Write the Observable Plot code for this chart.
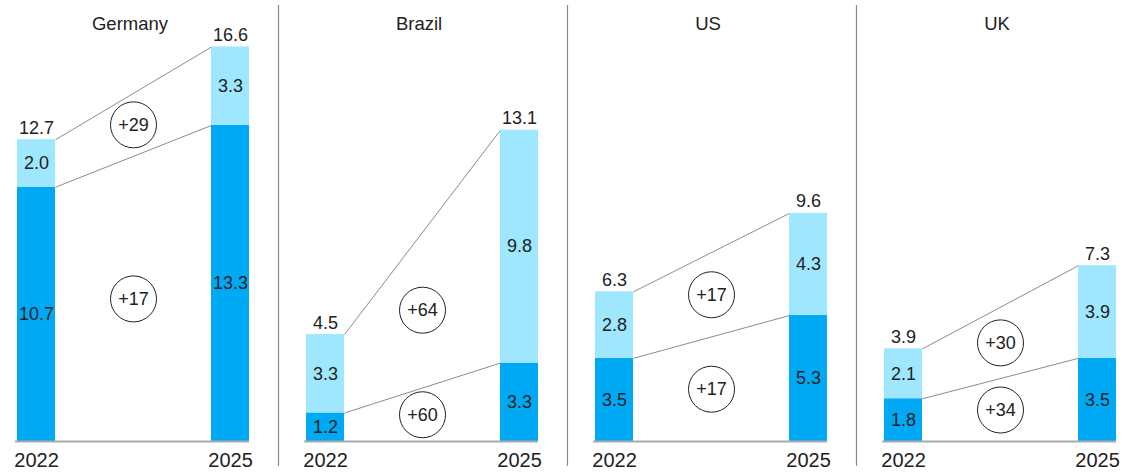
<!DOCTYPE html>
<html><head><meta charset="utf-8">
<script src="https://cdn.jsdelivr.net/npm/d3@7"></script>
<script src="https://cdn.jsdelivr.net/npm/@observablehq/plot@0.6"></script>
<style>body{margin:0;background:#fff;}</style>
</head><body><div id="chart"></div>
<script>
const countries = ["Germany", "Brazil", "US", "UK"];
const years = [2022, 2025];
const dark2022 = [10.7, 1.2, 3.5, 1.8];
const light2022 = [2.0, 3.3, 2.8, 2.1];
const dark2025 = [13.3, 3.3, 5.3, 3.5];
const light2025 = [3.3, 9.8, 4.3, 3.9];
const total2022 = [12.7, 4.5, 6.3, 3.9];
const total2025 = [16.6, 13.1, 9.6, 7.3];
const growthTotal = ["+29", "+64", "+17", "+30"];
const growthDark = ["+17", "+60", "+17", "+34"];

const DARK = "#00a9f4", LIGHT = "#9ee7ff", INK = "#222";
const hw = 0.294; // half bar width in year units
const [y0, y1] = years;

const segs = [], totals = [], links = [], circles = [], bases = [];
countries.forEach((c, i) => {
  const d = [dark2022[i], dark2025[i]], l = [light2022[i], light2025[i]], t = [total2022[i], total2025[i]];
  years.forEach((yr, k) => {
    segs.push({country: c, year: yr, lo: 0, hi: d[k], v: d[k], fill: DARK});
    segs.push({country: c, year: yr, lo: d[k], hi: d[k] + l[k], v: l[k], fill: LIGHT});
    totals.push({country: c, year: yr, top: d[k] + l[k], v: t[k]});
  });
  const topA = dark2022[i] + light2022[i], topB = dark2025[i] + light2025[i];
  links.push({country: c, a: topA, b: topB});
  links.push({country: c, a: dark2022[i], b: dark2025[i]});
  const midTop = (topA + topB) / 2, midDark = (dark2022[i] + dark2025[i]) / 2;
  circles.push({country: c, y: (midTop + midDark) / 2, label: growthTotal[i]});
  circles.push({country: c, y: midDark / 2, label: growthDark[i]});
  bases.push({country: c});
});

const chart = Plot.plot({
  width: 1131,
  height: 474,
  marginLeft: -11,
  marginRight: -14,
  marginTop: 37,
  marginBottom: 33,
  style: {fontFamily: "'Liberation Sans', Arial, sans-serif", color: INK, background: "#fff"},
  fx: {domain: countries, padding: 0},
  x: {domain: [y0 - 0.727, y1 + 0.742]},
  y: {domain: [0, 17], axis: null},
  marks: [
    Plot.frame({anchor: "left", stroke: "#8a8a8a", strokeWidth: 1.2, insetTop: -32, insetBottom: -24}),
    Plot.link(links, {fx: "country", x1: () => y0 + hw, x2: () => y1 - hw, y1: "a", y2: "b", stroke: "#8c8c8c", strokeWidth: 1}),
    Plot.rectY(segs, {fx: "country", x1: d => d.year - hw, x2: d => d.year + hw, y1: "lo", y2: "hi", fill: "fill"}),
    Plot.ruleY(bases, {fx: "country", y: 0, x1: () => y0 - hw - 0.03, x2: () => y1 + hw, stroke: "#aaa", strokeWidth: 2}),
    Plot.text(segs, {fx: "country", x: "year", y: d => (d.lo + d.hi) / 2, text: d => d.v.toFixed(1), fontSize: 18, fill: INK}),
    Plot.text(totals, {fx: "country", x: "year", y: "top", text: d => d.v.toFixed(1), dy: -6, lineAnchor: "bottom", fontSize: 18, fill: INK}),
    Plot.dot(circles, {fx: "country", x: () => (y0 + y1) / 2, y: "y", r: 23, stroke: INK, strokeWidth: 1, fill: "#fff"}),
    Plot.text(circles, {fx: "country", x: () => (y0 + y1) / 2, y: "y", text: "label", fontSize: 18, fill: INK}),
    Plot.axisX({ticks: years, tickFormat: "d", tickSize: 0, tickPadding: 11, fontSize: 20, label: null}),
    Plot.axisFx({anchor: "top", tickSize: 0, tickPadding: 8, fontSize: 18.5, dx: -4, label: null})
  ]
});
document.getElementById("chart").append(chart);
</script>
</body></html>
